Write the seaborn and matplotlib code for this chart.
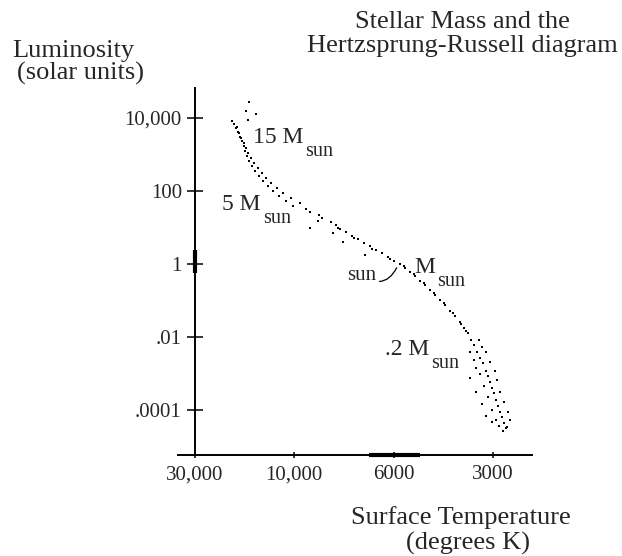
import matplotlib
matplotlib.use('Agg')
import matplotlib.pyplot as plt
import matplotlib.ticker as mticker
import seaborn as sns
import numpy as np

# main-sequence stars: surface temperature (K), luminosity (solar units)
temperature = [
    19900, 19500, 19000, 18600, 18200, 17800, 17500, 17200, 16900, 16500,
    16000, 15500, 14800, 14100, 13400, 12700, 11800, 11000, 10100,
    18800, 18400, 18000, 17400, 17000, 16700, 16100, 15700, 15000, 14300,
    13700, 13000, 12100, 11300, 10400, 9700,
    16500, 17000, 15300, 16700,
    9400, 9220, 8800, 8670, 8280, 8080, 7910, 7670, 7430, 7210,
    6990, 6780, 6570, 6370, 6180, 5980,
    9220, 8200, 7790, 6950,
    8850, 8000, 7360, 6710, 6110,
    5740, 5540, 5350, 5170, 4990, 4820, 4650, 4490, 4340, 4190,
    4040, 3900, 3770, 3660, 3570, 3500, 3430, 3350, 3280, 3210,
    3150, 3100, 3060, 3020, 2980, 2940, 2890, 2850, 2810, 2780, 2740,
    5580, 5200, 4850, 4520, 4220, 3960, 3750, 3620,
    3300, 3230, 3520, 3150, 3430, 3060, 3380, 2960, 3280, 3520,
    2920, 3190, 3380, 2850, 3100, 3230, 2780, 3020, 3150, 2700,
    2940, 2660, 2870, 2720, 3020, 2800,
]
luminosity = [
    8300, 6850, 5330, 4130, 3020, 2340, 1710, 1250, 910, 660,
    480, 350, 260, 190, 137, 100, 73, 53, 39,
    5660, 3900, 2830, 2070, 1510, 1100, 800, 585, 430, 310,
    225, 165, 120, 88, 64, 47,
    27400, 15500, 12900, 8800,
    32, 26, 22, 18.5, 14.2, 11.7, 9.2, 7.6, 5.9, 4.9,
    3.8, 3.2, 2.4, 2.0, 1.6, 1.2,
    9.7, 7.0, 4.0, 1.77,
    15, 9.7, 5.2, 2.6, 1.4,
    1.0, 0.77, 0.60, 0.47, 0.34, 0.27, 0.19, 0.14, 0.10, 0.075,
    0.051, 0.037, 0.026, 0.018, 0.013, 0.0083, 0.0060, 0.0038, 0.0027, 0.0019,
    0.0012, 0.00085, 0.00060, 0.00041, 0.00029, 0.00019, 0.00013, 0.000090, 0.000063, 0.000044, 0.000032,
    0.88, 0.53, 0.30, 0.16, 0.086, 0.045, 0.023, 0.015,
    0.0083, 0.0054, 0.0038, 0.0038, 0.0023, 0.0020, 0.0014, 0.0012, 0.00099, 0.00076,
    0.00066, 0.00045, 0.00032, 0.00032, 0.00022, 0.00015, 0.00017, 0.00010, 0.000070, 0.000090,
    0.000053, 0.000053, 0.000037, 0.000035, 0.000048, 0.000027,
]

# axis ticks
temp_ticks = [30000, 10000, 6000, 3000]
temp_labels = ['30,000', '10,000', '6000', '3000']
lum_ticks = [1e4, 1e2, 1, 1e-2, 1e-4]
lum_labels = ['10,000', '100', '1', '.01', '.0001']

# mass labels: (temperature, luminosity, text)
mass_labels = [
    (15800, 2070, '15 M'),
    (22200, 30, '5 M'),
    (5200, 0.57, 'M'),
    (6275, 0.0032, '.2 M'),
]
sun_temp, sun_lum = 5800, 1.0

# the temperature axis is drawn with equal spacing between the tick values
U = -np.log10(temp_ticks)
P = np.arange(len(temp_ticks), dtype=float)


def t_to_pos(t):
    with np.errstate(divide='ignore', invalid='ignore'):
        u = -np.log10(np.asarray(t, dtype=float))
    pos = np.interp(u, U, P)
    pos = np.where(u < U[0], P[0] + (u - U[0]) / (U[1] - U[0]), pos)
    pos = np.where(u > U[-1], P[-1] + (u - U[-1]) / (U[-1] - U[-2]), pos)
    return pos


def pos_to_t(p):
    p = np.asarray(p, dtype=float)
    u = np.interp(p, P, U)
    u = np.where(p < P[0], U[0] + (p - P[0]) * (U[1] - U[0]), u)
    u = np.where(p > P[-1], U[-1] + (p - P[-1]) * (U[-1] - U[-2]), u)
    return 10 ** (-u)


sns.set_style('white')
plt.rcParams['font.family'] = ['Liberation Serif', 'DejaVu Serif']

fig = plt.figure(figsize=(6.22, 5.56), dpi=100)
ax = fig.add_axes([0.2862, 0.1817, 0.5691, 0.6601])

sns.scatterplot(x=temperature, y=luminosity, ax=ax, marker='s', s=4.5,
                color='black', linewidth=0, legend=False)

ax.set_xscale('function', functions=(t_to_pos, pos_to_t))
ax.set_yscale('log')
ax.set_xlim(2282, 36200)
ax.set_ylim(10 ** -5.233, 10 ** 4.822)

ax.xaxis.set_major_locator(mticker.FixedLocator(temp_ticks))
ax.xaxis.set_major_formatter(mticker.FixedFormatter(temp_labels))
ax.xaxis.set_minor_locator(mticker.NullLocator())
ax.yaxis.set_major_locator(mticker.FixedLocator(lum_ticks))
ax.yaxis.set_major_formatter(mticker.FixedFormatter(lum_labels))
ax.yaxis.set_minor_locator(mticker.NullLocator())

for side in ['top', 'right']:
    ax.spines[side].set_visible(False)
ax.spines['left'].set_position(('data', 30000))
for side in ['left', 'bottom']:
    ax.spines[side].set_color('black')
    ax.spines[side].set_linewidth(1.4)

ax.tick_params(axis='y', direction='inout', length=11, width=1.1, color='black',
               labelsize=15, pad=4, left=True)
ax.tick_params(axis='x', direction='inout', length=5, width=1.1, color='black',
               labelsize=15, pad=5, bottom=True)
ax.set_xlabel('')
ax.set_ylabel('')

# thicker segments on the axes near the sun's values
ax.plot([6800, 5000], [10 ** -5.233] * 2, color='black', lw=3, clip_on=False,
        solid_capstyle='butt')
ax.plot([30000, 30000], [2.4, 0.56], color='black', lw=3, clip_on=False,
        solid_capstyle='butt')

# mass labels with a large, low "sun" subscript
for t, l, txt in mass_labels:
    main = ax.text(t, l, txt, fontsize=17, ha='left', va='baseline')
    ax.annotate('sun', xy=(1, 0), xycoords=main, xytext=(1.5, -6),
                textcoords='offset points', fontsize=14.5, ha='left', va='baseline')

ax.annotate('sun', xy=(sun_temp, sun_lum), xytext=(7620, 0.365),
            fontsize=15, ha='left', va='baseline',
            arrowprops=dict(arrowstyle='-', color='black', lw=0.9,
                            connectionstyle='arc3,rad=0.6',
                            shrinkA=0, shrinkB=3))

fig.text(462 / 622, 1 - 28 / 556, 'Stellar Mass and the', fontsize=19,
         ha='center', va='baseline')
fig.text(462 / 622, 1 - 52 / 556, 'Hertzsprung-Russell diagram', fontsize=19,
         ha='center', va='baseline')
fig.text(12 / 622, 1 - 57 / 556, 'Luminosity', fontsize=19, ha='left', va='baseline')
fig.text(17 / 622, 1 - 80 / 556, '(solar units)', fontsize=19, ha='left', va='baseline')
fig.text(461 / 622, 1 - 524 / 556, 'Surface Temperature', fontsize=19,
         ha='center', va='baseline')
fig.text(468 / 622, 1 - 550 / 556, '(degrees K)', fontsize=19,
         ha='center', va='baseline')

fig.savefig('out.png', dpi=100, facecolor='white')
